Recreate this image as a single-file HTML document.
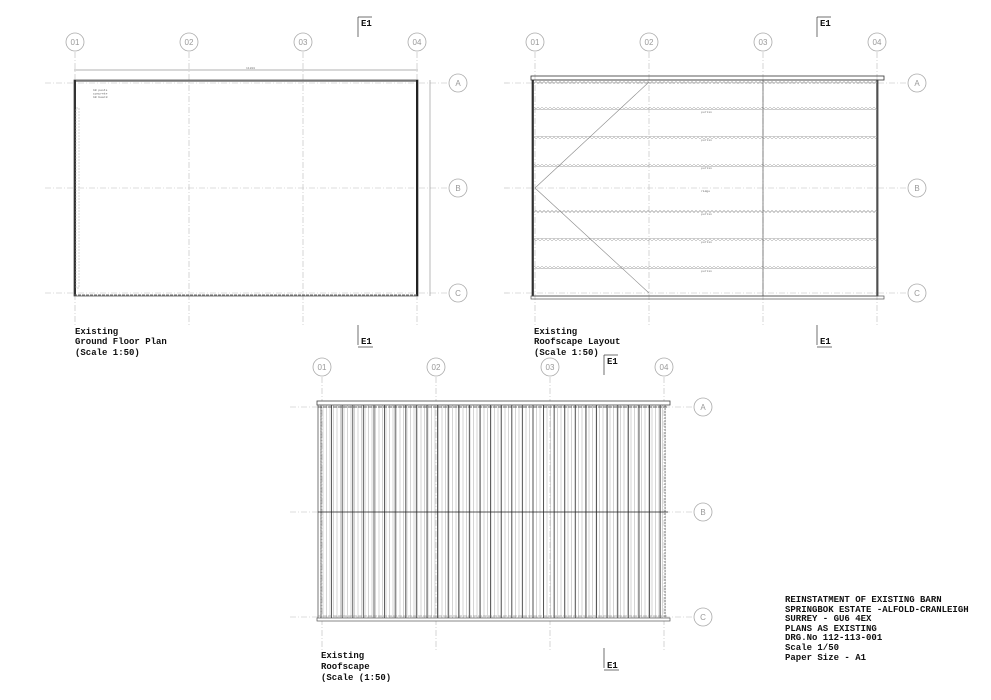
<!DOCTYPE html>
<html><head><meta charset="utf-8"><style>
html,body{margin:0;padding:0;background:#fff;}
svg{display:block}
text{font-family:"Liberation Mono",monospace;}
.lbl{font-size:9px;font-weight:bold;fill:#111}
.gc{fill:#fff;stroke:#aaa;stroke-width:0.8}
.gt{font-size:8px;fill:#999;text-anchor:middle;font-family:"Liberation Sans",sans-serif}
.gl{stroke:#bbb;stroke-width:0.6;stroke-dasharray:6 2 1 2}
</style></head><body>
<svg width="991" height="700" viewBox="0 0 991 700" xmlns="http://www.w3.org/2000/svg">
<defs>
<pattern id="vthin" x="318" y="0" width="3.5" height="10" patternUnits="userSpaceOnUse"><line x1="1.5" y1="0" x2="1.5" y2="10" stroke="#aaa" stroke-width="0.5"/></pattern>
<pattern id="vdark" x="318" y="0" width="10.6" height="10" patternUnits="userSpaceOnUse"><line x1="3" y1="0" x2="3" y2="10" stroke="#333" stroke-width="0.8"/></pattern>
<pattern id="zig" x="0" y="0" width="4" height="3" patternUnits="userSpaceOnUse"><polyline points="0,0.5 2,2.5 4,0.5" fill="none" stroke="#888" stroke-width="0.6"/></pattern>
</defs>

<!-- ===== Plan 1: Ground Floor ===== -->
<g>
<line class="gl" x1="75" y1="52" x2="75" y2="325"/>
<line class="gl" x1="189" y1="52" x2="189" y2="325"/>
<line class="gl" x1="303" y1="52" x2="303" y2="325"/>
<line class="gl" x1="417" y1="52" x2="417" y2="325"/>
<line class="gl" x1="45" y1="83" x2="448" y2="83"/>
<line class="gl" x1="45" y1="188" x2="448" y2="188"/>
<line class="gl" x1="45" y1="293" x2="448" y2="293"/>
<circle class="gc" cx="75" cy="42" r="9"/><text class="gt" x="75" y="45">01</text>
<circle class="gc" cx="189" cy="42" r="9"/><text class="gt" x="189" y="45">02</text>
<circle class="gc" cx="303" cy="42" r="9"/><text class="gt" x="303" y="45">03</text>
<circle class="gc" cx="417" cy="42" r="9"/><text class="gt" x="417" y="45">04</text>
<circle class="gc" cx="458" cy="83" r="9"/><text class="gt" x="458" y="86">A</text>
<circle class="gc" cx="458" cy="188" r="9"/><text class="gt" x="458" y="191">B</text>
<circle class="gc" cx="458" cy="293" r="9"/><text class="gt" x="458" y="296">C</text>
<line x1="74" y1="70" x2="418" y2="70" stroke="#666" stroke-width="0.6"/>
<text x="246" y="69" font-size="3" fill="#777">11200</text>
<line x1="430" y1="80" x2="430" y2="296" stroke="#888" stroke-width="0.6"/>
<rect x="74" y="80" width="344" height="216" fill="none" stroke="#555" stroke-width="0.8"/>
<line x1="74" y1="81" x2="418" y2="81" stroke="#777" stroke-width="1.5"/>
<line x1="75" y1="80" x2="75" y2="296" stroke="#333" stroke-width="2"/>
<line x1="417" y1="80" x2="417" y2="296" stroke="#222" stroke-width="2"/>
<line x1="74" y1="295" x2="418" y2="295" stroke="#666" stroke-width="1" stroke-dasharray="3 1"/>
<rect x="76" y="108" width="3" height="180" fill="none" stroke="#aaa" stroke-width="0.5" stroke-dasharray="2 1"/>
<text x="93" y="91" font-size="3" fill="#555">10 posts</text>
<text x="93" y="94.5" font-size="3" fill="#555">concrete</text>
<text x="93" y="98" font-size="3" fill="#555">10 board</text>
</g>
<text class="lbl" x="75" y="334">Existing</text>
<text class="lbl" x="75" y="344">Ground Floor Plan</text>
<text class="lbl" x="75" y="355">(Scale 1:50)</text>

<!-- E1 markers -->
<g stroke="#333" stroke-width="0.7" fill="none">
<line x1="358" y1="17" x2="358" y2="37"/><line x1="358" y1="17" x2="372" y2="17"/>
<line x1="358" y1="325" x2="358" y2="345"/><line x1="358" y1="347" x2="373" y2="347"/>
<line x1="817" y1="17" x2="817" y2="37"/><line x1="817" y1="17" x2="831" y2="17"/>
<line x1="817" y1="325" x2="817" y2="345"/><line x1="817" y1="347" x2="832" y2="347"/>
<line x1="604" y1="355" x2="604" y2="375"/><line x1="604" y1="355" x2="618" y2="355"/>
<line x1="604" y1="648" x2="604" y2="668"/><line x1="604" y1="670" x2="619" y2="670"/>
</g>
<g class="lbl"><text x="361" y="26">E1</text><text x="361" y="344">E1</text>
<text x="820" y="26">E1</text><text x="820" y="344">E1</text>
<text x="607" y="364">E1</text><text x="607" y="668">E1</text></g>

<!-- ===== Plan 2: Roofscape Layout ===== -->
<g>
<line class="gl" x1="535" y1="52" x2="535" y2="325"/>
<line class="gl" x1="649" y1="52" x2="649" y2="325"/>
<line class="gl" x1="763" y1="52" x2="763" y2="325"/>
<line class="gl" x1="877" y1="52" x2="877" y2="325"/>
<line class="gl" x1="504" y1="83" x2="907" y2="83"/>
<line class="gl" x1="504" y1="188" x2="907" y2="188"/>
<line class="gl" x1="504" y1="293" x2="907" y2="293"/>
<circle class="gc" cx="535" cy="42" r="9"/><text class="gt" x="535" y="45">01</text>
<circle class="gc" cx="649" cy="42" r="9"/><text class="gt" x="649" y="45">02</text>
<circle class="gc" cx="763" cy="42" r="9"/><text class="gt" x="763" y="45">03</text>
<circle class="gc" cx="877" cy="42" r="9"/><text class="gt" x="877" y="45">04</text>
<circle class="gc" cx="917" cy="83" r="9"/><text class="gt" x="917" y="86">A</text>
<circle class="gc" cx="917" cy="188" r="9"/><text class="gt" x="917" y="191">B</text>
<circle class="gc" cx="917" cy="293" r="9"/><text class="gt" x="917" y="296">C</text>
<rect x="531" y="76" width="353" height="4" fill="none" stroke="#333" stroke-width="0.8"/>
<rect x="532" y="80" width="346" height="216" fill="none" stroke="#444" stroke-width="0.8"/>
<line x1="533" y1="80" x2="533" y2="296" stroke="#222" stroke-width="1.6"/>
<line x1="877" y1="80" x2="877" y2="296" stroke="#444" stroke-width="1.4"/>
<rect x="531" y="296" width="353" height="3" fill="none" stroke="#555" stroke-width="0.7"/>
<line x1="763" y1="80" x2="763" y2="296" stroke="#555" stroke-width="0.7"/>
<rect x="534" y="81" width="343" height="3" fill="url(#zig)"/>
<rect x="534" y="107" width="343" height="3" fill="url(#zig)"/>
<rect x="534" y="136" width="343" height="3" fill="url(#zig)"/>
<rect x="534" y="164" width="343" height="3" fill="url(#zig)"/>
<rect x="534" y="210" width="343" height="3" fill="url(#zig)"/>
<rect x="534" y="238" width="343" height="3" fill="url(#zig)"/>
<rect x="534" y="266" width="343" height="3" fill="url(#zig)"/>
<line x1="535" y1="188" x2="649" y2="82" stroke="#888" stroke-width="0.6"/>
<line x1="535" y1="188" x2="649" y2="293" stroke="#888" stroke-width="0.6"/>
<g font-size="3" fill="#666"><text x="701" y="113">purlin</text><text x="701" y="141">purlin</text><text x="701" y="169">purlin</text><text x="701" y="192">ridge</text><text x="701" y="215">purlin</text><text x="701" y="243">purlin</text><text x="701" y="272">purlin</text></g>
</g>
<text class="lbl" x="534" y="334">Existing</text>
<text class="lbl" x="534" y="344">Roofscape Layout</text>
<text class="lbl" x="534" y="355">(Scale 1:50)</text>

<!-- ===== Plan 3: Roofscape ===== -->
<g>
<line class="gl" x1="322" y1="377" x2="322" y2="650"/>
<line class="gl" x1="436" y1="377" x2="436" y2="650"/>
<line class="gl" x1="550" y1="377" x2="550" y2="650"/>
<line class="gl" x1="664" y1="377" x2="664" y2="650"/>
<line class="gl" x1="290" y1="407" x2="693" y2="407"/>
<line class="gl" x1="290" y1="512" x2="693" y2="512"/>
<line class="gl" x1="290" y1="617" x2="693" y2="617"/>
<circle class="gc" cx="322" cy="367" r="9"/><text class="gt" x="322" y="370">01</text>
<circle class="gc" cx="436" cy="367" r="9"/><text class="gt" x="436" y="370">02</text>
<circle class="gc" cx="550" cy="367" r="9"/><text class="gt" x="550" y="370">03</text>
<circle class="gc" cx="664" cy="367" r="9"/><text class="gt" x="664" y="370">04</text>
<circle class="gc" cx="703" cy="407" r="9"/><text class="gt" x="703" y="410">A</text>
<circle class="gc" cx="703" cy="512" r="9"/><text class="gt" x="703" y="515">B</text>
<circle class="gc" cx="703" cy="617" r="9"/><text class="gt" x="703" y="620">C</text>
<rect x="320" y="405" width="346" height="213" fill="url(#vthin)"/>
<rect x="320" y="405" width="346" height="213" fill="url(#vdark)"/>
<rect x="317" y="401" width="353" height="4" fill="#fff" stroke="#444" stroke-width="0.8"/>
<rect x="317" y="618" width="353" height="3" fill="#fff" stroke="#555" stroke-width="0.7"/>
<line x1="318" y1="405" x2="318" y2="618" stroke="#555" stroke-width="0.8"/>
<line x1="321" y1="405" x2="321" y2="618" stroke="#999" stroke-width="0.6" stroke-dasharray="2 1"/>
<line x1="665" y1="405" x2="665" y2="618" stroke="#777" stroke-width="0.8" stroke-dasharray="2 1"/>
<line x1="318" y1="407" x2="668" y2="407" stroke="#333" stroke-width="0.7" stroke-dasharray="4 1"/>
<line x1="318" y1="512" x2="668" y2="512" stroke="#222" stroke-width="0.8"/>
<line x1="318" y1="616" x2="668" y2="616" stroke="#777" stroke-width="0.6" stroke-dasharray="4 1"/>
</g>
<text class="lbl" x="321" y="658">Existing</text>
<text class="lbl" x="321" y="669">Roofscape</text>
<text class="lbl" x="321" y="680">(Scale (1:50)</text>

<!-- Title block -->
<g class="lbl" font-size="8.8">
<text x="785" y="602">REINSTATMENT OF EXISTING BARN</text>
<text x="785" y="612">SPRINGBOK ESTATE -ALFOLD-CRANLEIGH</text>
<text x="785" y="621">SURREY - GU6 4EX</text>
<text x="785" y="631">PLANS AS EXISTING</text>
<text x="785" y="640">DRG.No 112-113-001</text>
<text x="785" y="650">Scale 1/50</text>
<text x="785" y="660">Paper Size - A1</text>
</g>
</svg>
</body></html>
